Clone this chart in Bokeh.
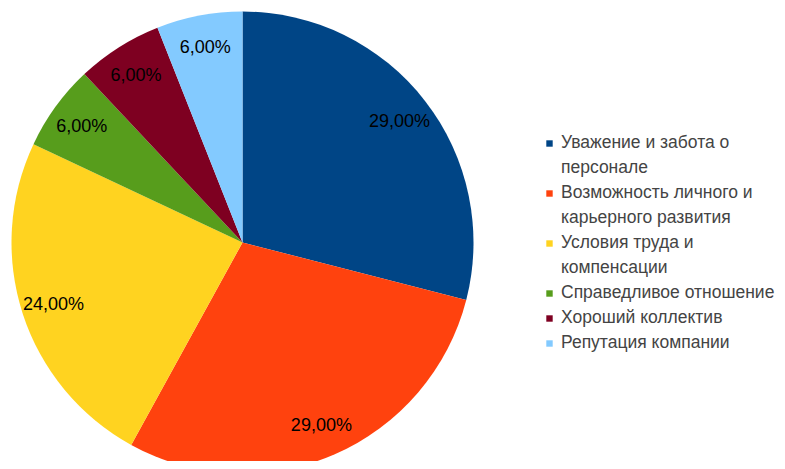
import math
from bokeh.plotting import figure
from bokeh.models import ColumnDataSource, Legend, LegendItem
from bokeh.core.properties import value
from bokeh.embed import file_html
from bokeh.resources import INLINE

categories = [
    "Уважение и забота о\nперсонале",
    "Возможность личного и\nкарьерного развития",
    "Условия труда и\nкомпенсации",
    "Справедливое отношение",
    "Хороший коллектив",
    "Репутация компании",
]
values = [29, 29, 24, 6, 6, 6]
colors = ["#004586", "#ff420e", "#ffd320", "#579d1c", "#7e0021", "#83caff"]

W, H = 777, 461
cx, cy, R = 242, H - 242, 231
label_frac = 0.86
FONT = "Liberation Sans"
FS = "18px"
LFS = "17.5px"

total = sum(values)
starts, ends, lx, ly, labels = [], [], [], [], []
cum = 0.0
for v in values:
    a0 = math.pi / 2 - 2 * math.pi * cum / total
    a1 = math.pi / 2 - 2 * math.pi * (cum + v) / total
    mid = (a0 + a1) / 2
    starts.append(a0)
    ends.append(a1)
    lx.append(cx + label_frac * R * math.cos(mid))
    ly.append(cy + label_frac * R * math.sin(mid))
    labels.append(f"{v / total * 100:.2f}%".replace(".", ","))
    cum += v

src = ColumnDataSource(dict(
    cat=categories, val=values, color=colors,
    start=starts, end=ends, x=[cx] * len(values), y=[cy] * len(values),
    lx=lx, ly=ly, lab=labels,
))

p = figure(width=W, height=H, x_range=(0, W), y_range=(0, H),
           output_backend="svg", toolbar_location=None, min_border=0)
p.axis.visible = False
p.grid.visible = False
p.outline_line_color = None

r = p.wedge(x="x", y="y", radius=R, radius_units="screen", start_angle="start", end_angle="end",
            direction="clock", fill_color="color", line_color=None, source=src)

p.text(x="lx", y="ly", text="lab", source=src, text_align="center", text_baseline="middle",
       text_font=value(FONT), text_font_size=FS, text_color="#000000")

# invisible renderer for legend continuation lines
blank = p.scatter(x=[], y=[], size=0, fill_alpha=0, line_alpha=0)

items = []
for i, c in enumerate(categories):
    lines = c.split("\n")
    items.append(LegendItem(label=lines[0], renderers=[r], index=i))
    for extra in lines[1:]:
        items.append(LegendItem(label=extra, renderers=[blank]))

legend = Legend(items=items, location=(545, 108), glyph_width=8, glyph_height=8,
                label_text_font=FONT, label_text_font_size=LFS, label_height=20,
                label_standoff=8, spacing=4, padding=0, margin=0,
                border_line_color=None, background_fill_alpha=0)
p.add_layout(legend, "center")

open("out.html", "w").write(file_html(p, INLINE))
